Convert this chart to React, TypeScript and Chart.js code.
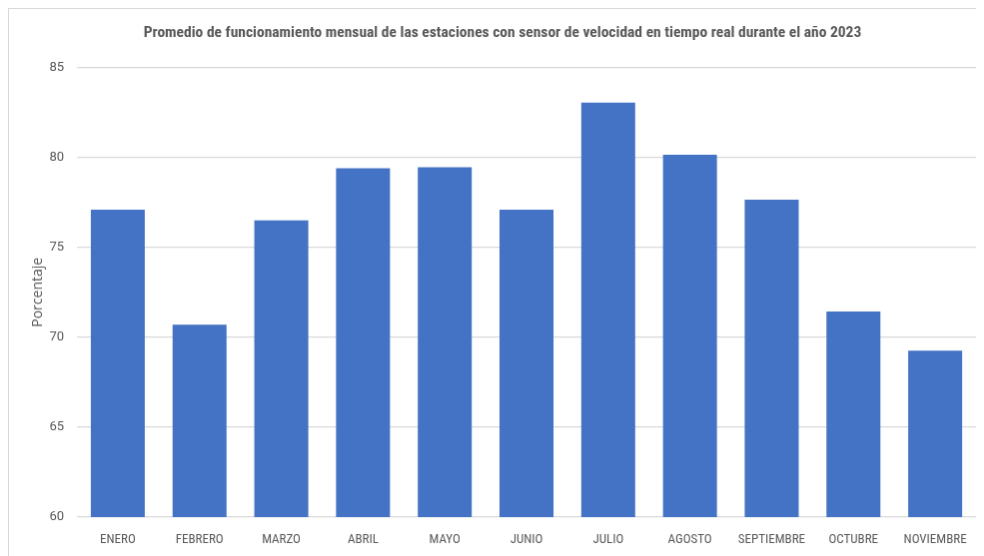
import React, { useEffect, useRef } from "react";
import { Chart, registerables } from "chart.js";

Chart.register(...registerables);

const titleText =
  "Promedio de funcionamiento mensual de las estaciones con sensor de velocidad en tiempo real durante el año 2023";
const months = [
  "ENERO",
  "FEBRERO",
  "MARZO",
  "ABRIL",
  "MAYO",
  "JUNIO",
  "JULIO",
  "AGOSTO",
  "SEPTIEMBRE",
  "OCTUBRE",
  "NOVIEMBRE",
];
const percentages = [77.1, 70.7, 76.5, 79.4, 79.45, 77.1, 83.05, 80.15, 77.65, 71.43, 69.25];
const yMin = 60;
const yMax = 85;
const yStep = 5;
const yTitle = "Porcentaje";

const FONT = "'Liberation Sans Narrow', 'Roboto Condensed', 'Open Sans', sans-serif";

export default function App() {
  const ref = useRef<HTMLCanvasElement>(null);
  useEffect(() => {
    if (!ref.current) return;
    const chart = new Chart(ref.current, {
      type: "bar",
      data: {
        labels: months,
        datasets: [
          {
            data: percentages,
            backgroundColor: "#4472C4",
            borderWidth: 0,
            categoryPercentage: 1,
            barPercentage: 0.66,
          },
        ],
      },
      options: {
        animation: false,
        responsive: false,
        maintainAspectRatio: false,
        layout: { padding: { left: 20, right: 8, top: 0, bottom: 0 } },
        plugins: {
          legend: { display: false },
          tooltip: { enabled: false },
          title: {
            display: true,
            text: titleText,
            color: "#595959",
            font: { family: FONT, size: 15.5, weight: "bold" },
            padding: { top: 15, bottom: 25 },
          },
        },
        scales: {
          x: {
            grid: { display: false, drawTicks: false },
            border: { display: false },
            ticks: {
              color: "#595959",
              font: { family: FONT, size: 13 },
              padding: 15,
              maxRotation: 0,
              autoSkip: false,
            },
            afterFit: (s: any) => {
              s.height = 39;
            },
          },
          y: {
            min: yMin,
            max: yMax,
            ticks: {
              stepSize: yStep,
              color: "#595959",
              font: { family: "Roboto, sans-serif", size: 13 },
              padding: 13,
            },
            grid: { color: "#d9d9d9", lineWidth: 1.3, drawTicks: false },
            border: { display: false },
            title: {
              display: true,
              text: yTitle,
              color: "#595959",
              font: { family: "'Open Sans', sans-serif", size: 14 },
              padding: { top: 1, bottom: 0 },
            },
            afterFit: (s: any) => {
              s.width = 48;
            },
          },
        },
      },
    });
    return () => chart.destroy();
  }, []);
  return (
    <div style={{ width: 976, height: 548, boxSizing: "border-box" }}>
      <canvas
        ref={ref}
        width={976}
        height={548}
        style={{ display: "block", borderLeft: "1px solid #d9d9d9", borderTop: "1px solid #d9d9d9" }}
      />
    </div>
  );
}
